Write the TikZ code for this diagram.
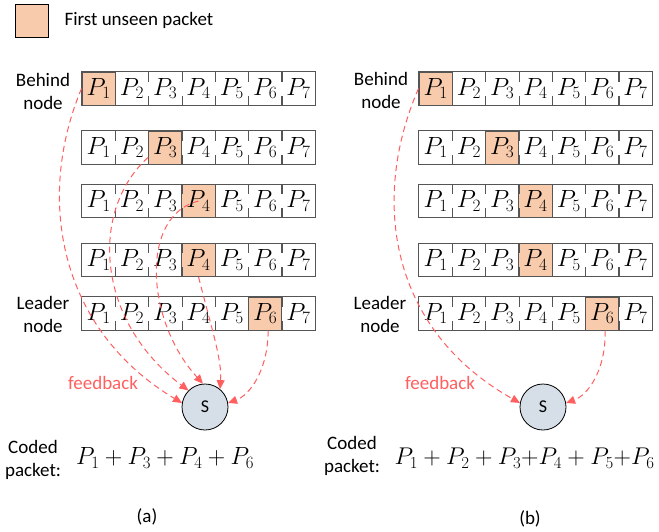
\documentclass[tikz,border=0pt]{standalone}
\usepackage[no-math]{fontspec}
\setmainfont{Carlito}
\usetikzlibrary{arrows.meta}
\definecolor{unseen}{RGB}{248,203,173}
\definecolor{fbred}{RGB}{255,95,95}
\definecolor{srcfill}{RGB}{214,223,232}
\definecolor{cellline}{RGB}{85,85,85}

\tikzset{
  cell/.style={minimum width=33.3pt,minimum height=33pt,inner sep=0pt,font=\fontsize{23}{23}\selectfont},
  unseencell/.style={cell,fill=unseen,draw=cellline,line width=1pt},
  rowbox/.style={draw=cellline,line width=1pt},
  divider/.style={draw=cellline,line width=1.2pt,dash pattern=on 10pt off 14pt on 9pt off 5pt},
  lbl/.style={align=center,font=\fontsize{19}{23}\selectfont},
  fblabel/.style={text=fbred,font=\fontsize{19}{23}\selectfont},
  srcnode/.style={circle,draw=black,fill=srcfill,line width=0.8pt,minimum size=46pt,inner sep=0pt,font=\fontsize{18}{18}\selectfont},
  fbarrow/.style={draw=fbred,line width=1pt,dash pattern=on 6pt off 4pt,-{Triangle[length=9pt,width=8pt]}},
  formula/.style={font=\fontsize{23}{23}\selectfont}
}

\begin{document}
\begin{tikzpicture}[x=1pt,y=-1pt]
\useasboundingbox (0,0) rectangle (659,531);

\node[minimum size=33pt,inner sep=0pt,draw=black,line width=1pt,fill=unseen] (key) at (31.5,20.5) {};
\node[lbl,anchor=west] (keytext) at (61,20.5) {First unseen packet};

\foreach \p/\x in {a/82,b/419}{
\foreach \r/\y/\h in {1/88.5/1,2/147.5/3,3/201/4,4/260/4,5/313.5/6}{
  \foreach \c in {1,...,7}{
    \ifnum\c=\h
      \node[unseencell] (\p\r-\c) at (\x+33.3*\c-16.65,\y) {$P_{\c}$};
    \else
      \node[cell] (\p\r-\c) at (\x+33.3*\c-16.65,\y) {$P_{\c}$};
    \fi
  }
  \draw[rowbox] (\p\r-1.north west) rectangle (\p\r-7.south east);
  \foreach \c in {1,...,6}
    \draw[divider] (\p\r-\c.north east) -- (\p\r-\c.south east);
}}

\node[lbl] (behinda) at (43,91) {Behind\\node};
\node[lbl] (leadera) at (43,314) {Leader\\node};
\node[lbl] (behindb) at (381,90) {Behind\\node};
\node[lbl] (leaderb) at (380,314) {Leader\\node};

\node[srcnode] (sa) at (205,407) {S};
\node[srcnode] (sb) at (543,407) {S};

\node[fblabel] (fba) at (103,383) {feedback};
\node[fblabel] (fbb) at (440,383) {feedback};

\draw[fbarrow] (a1-1.west) .. controls (35,200) and (60,330) .. (sa.170);
\draw[fbarrow] (a2-3.210) .. controls (90,210) and (95,320) .. (sa.135);
\draw[fbarrow] (a3-4.center) .. controls (140,215) and (145,320) .. (sa.95);
\draw[fbarrow] (a4-4.south) .. controls (212,330) and (222,360) .. (sa.50);
\draw[fbarrow] (a5-6.-80) .. controls (268,370) and (250,395) .. (sa.10);

\draw[fbarrow] (b1-1.west) .. controls (370,200) and (390,330) .. (sb.170);
\draw[fbarrow] (b5-6.-80) .. controls (606,370) and (588,395) .. (sb.10);

\node[lbl] (codeda) at (33,460) {Coded\\packet:};
\node[lbl] (codedb) at (352,456) {Coded\\packet:};
\node[formula,xscale=0.97] (suma) at (165,458) {$P_1 + P_3 + P_4 + P_6$};
\node[formula,anchor=east,scale=0.972,transform shape] (sumb) at (658,458) {$P_1 + P_2 + P_3{+}P_4 + P_5{+}P_6$};

\node[lbl] (capa) at (147,517) {(a)};
\node[lbl] (capb) at (530,519) {(b)};
\end{tikzpicture}
\end{document}
